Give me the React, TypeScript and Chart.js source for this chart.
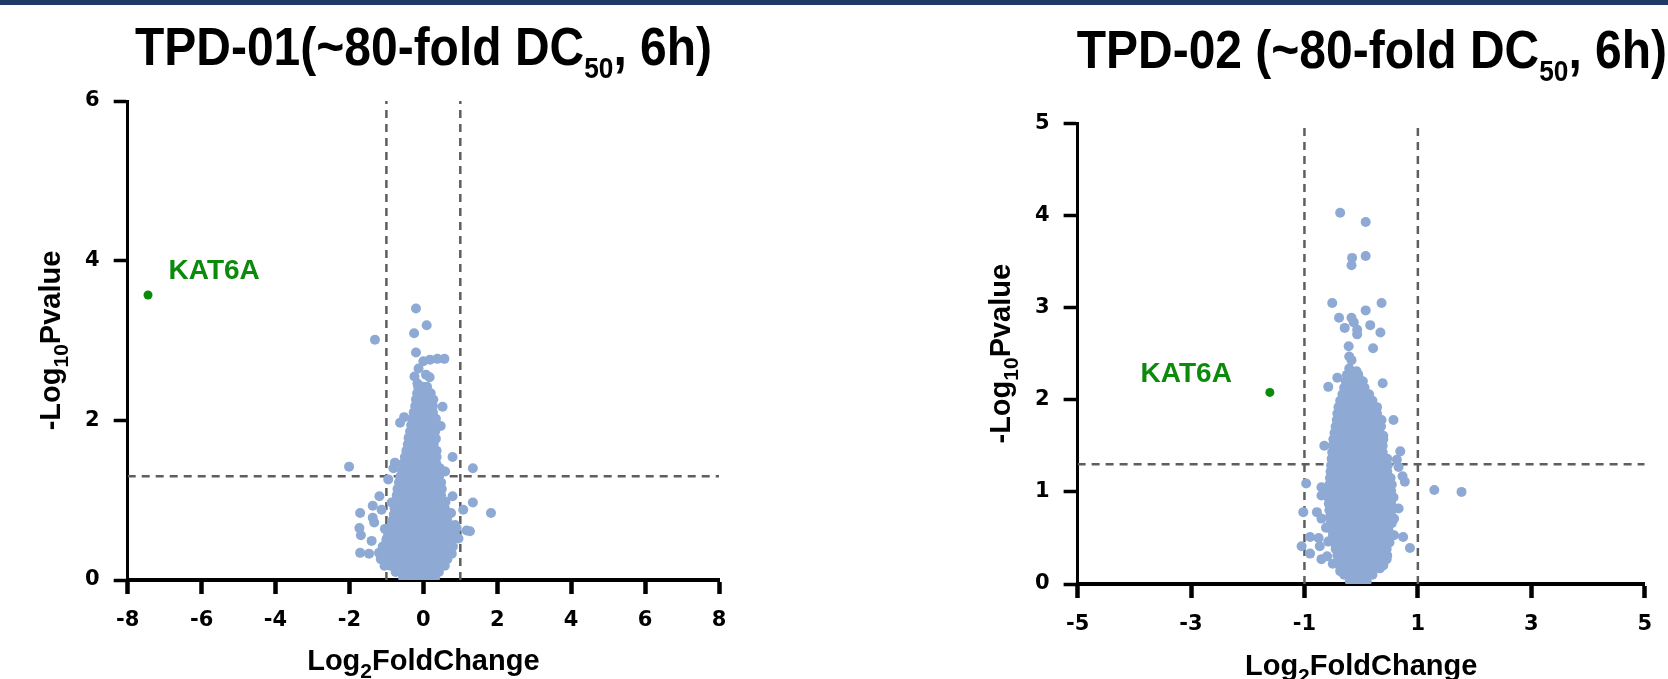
import React, { useEffect, useRef } from "react";
import { Chart, registerables } from "chart.js";

Chart.register(...registerables);

const FONT = "'Liberation Sans', Arial, Helvetica, sans-serif";
const TICK_FONT = "'DejaVu Sans', Verdana, sans-serif";
const BLUE = "#8EAAD4";
const GREEN = "#0B8A0B";
const DASH = "#5E5E5E";
const TICK_SIZE = 21;

Chart.defaults.font.family = TICK_FONT;
Chart.defaults.font.size = TICK_SIZE;
Chart.defaults.font.weight = "bold";
Chart.defaults.color = "#000";

// thresholds
const FC_CUT = 1;
const P_CUT = 1.3;

// ---------------- TPD-01 ----------------
const tpd01Title = ["TPD-01(~80-fold DC", "50", ", 6h)"];
const tpd01XRange = [-8, 8];
const tpd01YRange = [0, 6];
const tpd01XStep = 2;
const tpd01YStep = 2;
const tpd01Kat6a = [-7.45, 3.57];
// dense core: [y, x values]
const tpd01Core: [number, number[]][] = [
  [0.03, [-0.55, -0.4, -0.25, -0.1, 0.05, 0.2, 0.32]],
  [0.1, [-0.75, -0.6, -0.45, -0.3, -0.15, 0, 0.15, 0.3, 0.42]],
  [0.18, [-1.05, -0.9, -0.75, -0.6, -0.45, -0.3, -0.15, 0, 0.15, 0.3, 0.45, 0.58]],
  [0.26, [-1.15, -1.0, -0.85, -0.7, -0.55, -0.4, -0.25, -0.1, 0.05, 0.2, 0.35, 0.5, 0.65]],
  [0.34, [-1.2, -1.05, -0.9, -0.75, -0.6, -0.45, -0.3, -0.15, 0, 0.15, 0.3, 0.45, 0.6, 0.72]],
  [0.42, [-1.1, -0.95, -0.8, -0.65, -0.5, -0.35, -0.2, -0.05, 0.1, 0.25, 0.4, 0.55, 0.7, 0.8]],
  [0.5, [-1.0, -0.85, -0.7, -0.55, -0.4, -0.25, -0.1, 0.05, 0.2, 0.35, 0.5, 0.65, 0.78]],
  [0.58, [-0.95, -0.8, -0.65, -0.5, -0.35, -0.2, -0.05, 0.1, 0.25, 0.4, 0.55, 0.7, 0.85]],
  [0.66, [-0.9, -0.75, -0.6, -0.45, -0.3, -0.15, 0, 0.15, 0.3, 0.45, 0.6, 0.72]],
  [0.74, [-0.85, -0.7, -0.55, -0.4, -0.25, -0.1, 0.05, 0.2, 0.35, 0.5, 0.65]],
  [0.82, [-0.8, -0.65, -0.5, -0.35, -0.2, -0.05, 0.1, 0.25, 0.4, 0.55, 0.68]],
  [0.9, [-0.78, -0.62, -0.48, -0.33, -0.18, -0.03, 0.12, 0.27, 0.42, 0.58]],
  [0.98, [-0.75, -0.6, -0.45, -0.3, -0.15, 0, 0.15, 0.3, 0.45, 0.6]],
  [1.06, [-0.72, -0.57, -0.42, -0.27, -0.12, 0.03, 0.18, 0.33, 0.48]],
  [1.14, [-0.7, -0.55, -0.4, -0.25, -0.1, 0.05, 0.2, 0.35, 0.5]],
  [1.22, [-0.66, -0.52, -0.37, -0.22, -0.07, 0.08, 0.23, 0.38, 0.48]],
  [1.3, [-0.62, -0.48, -0.33, -0.18, -0.03, 0.12, 0.27, 0.42]],
  [1.38, [-0.58, -0.44, -0.3, -0.15, 0, 0.15, 0.3, 0.42]],
  [1.46, [-0.55, -0.4, -0.25, -0.1, 0.05, 0.2, 0.35]],
  [1.54, [-0.5, -0.36, -0.22, -0.07, 0.08, 0.22, 0.36]],
  [1.62, [-0.46, -0.32, -0.18, -0.04, 0.1, 0.24, 0.36]],
  [1.7, [-0.42, -0.28, -0.14, 0, 0.14, 0.28]],
  [1.78, [-0.4, -0.26, -0.12, 0.02, 0.16, 0.3]],
  [1.86, [-0.36, -0.22, -0.08, 0.06, 0.2, 0.32]],
  [1.94, [-0.33, -0.2, -0.06, 0.08, 0.22]],
  [2.02, [-0.3, -0.17, -0.04, 0.1, 0.22, 0.34]],
  [2.1, [-0.26, -0.13, 0, 0.13, 0.26]],
  [2.18, [-0.22, -0.1, 0.03, 0.16, 0.26]],
  [2.26, [-0.2, -0.07, 0.06, 0.18]],
  [2.34, [-0.17, -0.04, 0.08, 0.2]],
  [2.42, [-0.14, -0.02, 0.1]],
];
// scattered points: [x, y]
const tpd01Scatter: [number, number][] = [
  [-0.2, 3.4], [0.09, 3.19], [-1.31, 3.01], [-0.25, 3.09], [-0.2, 2.85], [0.0, 2.74],
  [0.18, 2.76], [0.38, 2.77], [0.57, 2.77], [-0.13, 2.65], [-0.24, 2.55], [0.07, 2.57],
  [0.17, 2.54], [-0.16, 2.46], [0.52, 2.17], [0.27, 2.26], [-0.52, 2.04], [-0.63, 1.97],
  [0.47, 1.93], [0.34, 1.77], [-0.36, 1.71], [-0.4, 1.67], [0.79, 1.54], [-2.01, 1.42],
  [1.34, 1.4], [-0.77, 1.47], [-0.81, 1.4], [-0.95, 1.26], [0.45, 1.4], [0.59, 1.36],
  [-1.19, 1.05], [0.79, 1.05], [1.34, 0.97], [1.08, 0.88], [1.83, 0.84], [-1.37, 0.93],
  [-1.13, 0.88], [-1.71, 0.84], [-1.37, 0.78], [-1.33, 0.72], [-1.73, 0.65], [-1.69, 0.56],
  [-1.4, 0.49], [-1.71, 0.34], [-1.47, 0.33], [0.86, 0.69], [0.95, 0.52], [1.17, 0.62],
  [1.26, 0.61], [0.77, 0.33], [0.55, 0.2], [-1.04, 0.64], [-0.99, 0.52], [-0.86, 0.97],
  [-0.63, 1.25], [0.75, 0.84], [0.9, 0.65],
];

// ---------------- TPD-02 ----------------
const tpd02Title = ["TPD-02 (~80-fold DC", "50", ", 6h)"];
const tpd02XRange = [-5, 5];
const tpd02YRange = [0, 5];
const tpd02XStep = 2;
const tpd02YStep = 1;
const tpd02Kat6a = [-1.61, 2.08];
const tpd02Core: [number, number[]][] = [
  [0.03, [-0.2, -0.1, 0, 0.1]],
  [0.1, [-0.3, -0.2, -0.1, 0, 0.1, 0.2]],
  [0.17, [-0.36, -0.26, -0.16, -0.06, 0.04, 0.14, 0.24, 0.33]],
  [0.24, [-0.4, -0.3, -0.2, -0.1, 0, 0.1, 0.2, 0.3, 0.4]],
  [0.31, [-0.42, -0.32, -0.22, -0.12, -0.02, 0.08, 0.18, 0.28, 0.38, 0.46]],
  [0.38, [-0.45, -0.35, -0.25, -0.15, -0.05, 0.05, 0.15, 0.25, 0.35, 0.45]],
  [0.45, [-0.48, -0.38, -0.28, -0.18, -0.08, 0.02, 0.12, 0.22, 0.32, 0.42, 0.5]],
  [0.52, [-0.5, -0.4, -0.3, -0.2, -0.1, 0, 0.1, 0.2, 0.3, 0.4, 0.5]],
  [0.59, [-0.52, -0.42, -0.32, -0.22, -0.12, -0.02, 0.08, 0.18, 0.28, 0.38, 0.48]],
  [0.66, [-0.54, -0.44, -0.34, -0.24, -0.14, -0.04, 0.06, 0.16, 0.26, 0.36, 0.46, 0.54]],
  [0.73, [-0.55, -0.45, -0.35, -0.25, -0.15, -0.05, 0.05, 0.15, 0.25, 0.35, 0.45, 0.53]],
  [0.8, [-0.56, -0.46, -0.36, -0.26, -0.16, -0.06, 0.04, 0.14, 0.24, 0.34, 0.44, 0.54]],
  [0.87, [-0.57, -0.47, -0.37, -0.27, -0.17, -0.07, 0.03, 0.13, 0.23, 0.33, 0.43, 0.53]],
  [0.94, [-0.58, -0.48, -0.38, -0.28, -0.18, -0.08, 0.02, 0.12, 0.22, 0.32, 0.42, 0.52, 0.57]],
  [1.01, [-0.57, -0.47, -0.37, -0.27, -0.17, -0.07, 0.03, 0.13, 0.23, 0.33, 0.43, 0.53]],
  [1.08, [-0.56, -0.46, -0.36, -0.26, -0.16, -0.06, 0.04, 0.14, 0.24, 0.34, 0.44, 0.54]],
  [1.15, [-0.55, -0.45, -0.35, -0.25, -0.15, -0.05, 0.05, 0.15, 0.25, 0.35, 0.45, 0.52]],
  [1.22, [-0.54, -0.44, -0.34, -0.24, -0.14, -0.04, 0.06, 0.16, 0.26, 0.36, 0.46]],
  [1.29, [-0.53, -0.43, -0.33, -0.23, -0.13, -0.03, 0.07, 0.17, 0.27, 0.37, 0.47]],
  [1.36, [-0.52, -0.42, -0.32, -0.22, -0.12, -0.02, 0.08, 0.18, 0.28, 0.38, 0.46]],
  [1.43, [-0.51, -0.41, -0.31, -0.21, -0.11, -0.01, 0.09, 0.19, 0.29, 0.38]],
  [1.5, [-0.5, -0.4, -0.3, -0.2, -0.1, 0, 0.1, 0.2, 0.3, 0.38]],
  [1.57, [-0.49, -0.39, -0.29, -0.19, -0.09, 0.01, 0.11, 0.21, 0.31, 0.39]],
  [1.64, [-0.47, -0.37, -0.27, -0.17, -0.07, 0.03, 0.13, 0.23, 0.33]],
  [1.71, [-0.45, -0.35, -0.25, -0.15, -0.05, 0.05, 0.15, 0.25, 0.35]],
  [1.78, [-0.43, -0.33, -0.23, -0.13, -0.03, 0.07, 0.17, 0.27, 0.36]],
  [1.85, [-0.42, -0.32, -0.22, -0.12, -0.02, 0.08, 0.18, 0.28]],
  [1.92, [-0.4, -0.3, -0.2, -0.1, 0, 0.1, 0.2, 0.28]],
  [1.99, [-0.37, -0.27, -0.17, -0.07, 0.03, 0.13, 0.2]],
  [2.06, [-0.33, -0.23, -0.13, -0.03, 0.07, 0.14]],
  [2.13, [-0.3, -0.2, -0.1, 0, 0.06]],
  [2.2, [-0.27, -0.17, -0.07, 0.03]],
  [2.27, [-0.25, -0.15, -0.05]],
];
const tpd02Scatter: [number, number][] = [
  [-0.37, 4.03], [0.08, 3.93], [-0.16, 3.54], [-0.17, 3.46], [0.08, 3.56], [-0.51, 3.05],
  [0.36, 3.05], [0.08, 2.97], [-0.39, 2.89], [-0.17, 2.89], [-0.13, 2.84], [-0.29, 2.78],
  [-0.07, 2.76], [-0.07, 2.71], [0.16, 2.81], [0.34, 2.73], [0.21, 2.56], [-0.22, 2.58],
  [-0.21, 2.47], [-0.17, 2.43], [-0.21, 2.34], [-0.08, 2.31], [-0.42, 2.24], [-0.58, 2.14],
  [0.38, 2.18], [0.57, 1.78], [-0.65, 1.5], [0.69, 1.44], [0.63, 1.35], [0.66, 1.27],
  [0.73, 1.17], [0.77, 1.11], [-0.97, 1.09], [1.29, 1.02], [1.77, 1.0], [-0.7, 1.05],
  [-0.7, 0.96], [-1.02, 0.78], [-0.78, 0.78], [-0.7, 0.71], [-0.62, 0.61], [-1.05, 0.41],
  [-0.9, 0.51], [-0.9, 0.33], [-0.75, 0.5], [-0.73, 0.41], [-0.58, 0.46], [-0.7, 0.27],
  [-0.6, 0.3], [-0.5, 0.22], [-0.37, 0.14], [0.86, 0.39], [0.74, 0.51], [0.58, 0.53],
  [0.66, 0.82], [0.58, 0.71], [0.45, 0.27], [0.39, 0.2], [0.39, 1.61],
];

// ---------------- helpers ----------------
type Seg = { t: string; sub?: boolean };

function buildPoints(core: [number, number[]][], scatter: [number, number][]) {
  const pts: { x: number; y: number }[] = [];
  core.forEach(([y, xs]) => xs.forEach((x) => pts.push({ x, y })));
  scatter.forEach(([x, y]) => pts.push({ x, y }));
  return pts;
}

function drawSegs(ctx: CanvasRenderingContext2D, segs: Seg[], size: number, subSize: number, subDrop: number, x: number, y: number) {
  let cx = x;
  for (const s of segs) {
    ctx.font = `bold ${s.sub ? subSize : size}px ${FONT}`;
    ctx.fillText(s.t, cx, s.sub ? y + subDrop : y);
    cx += ctx.measureText(s.t).width;
  }
  return cx - x;
}
function measureSegs(ctx: CanvasRenderingContext2D, segs: Seg[], size: number, subSize: number) {
  let w = 0;
  for (const s of segs) {
    ctx.font = `bold ${s.sub ? subSize : size}px ${FONT}`;
    w += ctx.measureText(s.t).width;
  }
  return w;
}

const TITLE_SIZE = 53;
const TITLE_SUB = 29;
const TITLE_TARGET_W = 577;
const AXIS_SIZE = 29;
const AXIS_SUB = 21;

type Spec = {
  left: number;
  title: string[];
  titleX: number;
  titleBase: number;
  xRange: number[];
  yRange: number[];
  xStep: number;
  yStep: number;
  kat: number[];
  katDx: number;
  katDy: number;
  katAlign: CanvasTextAlign;
  core: [number, number[]][];
  scatter: [number, number][];
  padTop: number;
  padRight: number;
  yAxisW: number;
  xAxisH: number;
  xTitleBase: number;
  yTitleOffset: number;
};

function textPlugin(spec: Spec) {
  return {
    id: "volcanoText",
    afterDraw(chart: any) {
      const ctx: CanvasRenderingContext2D = chart.ctx;
      const area = chart.chartArea;
      const xs = chart.scales.x;
      const ys = chart.scales.y;
      ctx.save();
      ctx.fillStyle = "#000";
      ctx.textBaseline = "alphabetic";
      ctx.textAlign = "left";
      // title (condensed to match width)
      const calib: Seg[] = [{ t: tpd01Title[0] }, { t: tpd01Title[1], sub: true }, { t: tpd01Title[2] }];
      const sx = TITLE_TARGET_W / measureSegs(ctx, calib, TITLE_SIZE, TITLE_SUB);
      const tsegs: Seg[] = [{ t: spec.title[0] }, { t: spec.title[1], sub: true }, { t: spec.title[2] }];
      ctx.save();
      ctx.translate(spec.titleX, spec.titleBase);
      ctx.scale(sx, 1);
      drawSegs(ctx, tsegs, TITLE_SIZE, TITLE_SUB, 13, 0, 0);
      ctx.restore();
      // x axis title
      const xsegs: Seg[] = [{ t: "Log" }, { t: "2", sub: true }, { t: "FoldChange" }];
      const xw = measureSegs(ctx, xsegs, AXIS_SIZE, AXIS_SUB);
      const xc = (area.left + area.right) / 2;
      drawSegs(ctx, xsegs, AXIS_SIZE, AXIS_SUB, 8, xc - xw / 2, spec.xTitleBase);
      // y axis title
      const ysegs: Seg[] = [{ t: "-Log" }, { t: "10", sub: true }, { t: "Pvalue" }];
      const yw = measureSegs(ctx, ysegs, AXIS_SIZE, AXIS_SUB);
      ctx.save();
      ctx.translate(area.left - spec.yTitleOffset, (area.top + area.bottom) / 2);
      ctx.rotate(-Math.PI / 2);
      drawSegs(ctx, ysegs, AXIS_SIZE, AXIS_SUB, 8, -yw / 2, 0);
      ctx.restore();
      // KAT6A label
      const px = xs.getPixelForValue(spec.kat[0]);
      const py = ys.getPixelForValue(spec.kat[1]);
      ctx.fillStyle = GREEN;
      ctx.font = `bold 28px ${FONT}`;
      ctx.textAlign = spec.katAlign;
      ctx.fillText("KAT6A", px + spec.katDx, py + spec.katDy);
      ctx.restore();
    },
  };
}

function dashSet(data: { x: number; y: number }[]) {
  return {
    data,
    showLine: true,
    pointRadius: 0,
    borderColor: DASH,
    borderWidth: 2.5,
    borderDash: [8, 6],
    fill: false,
    order: 3,
  };
}

function makeConfig(spec: Spec): any {
  const tickFont = { family: TICK_FONT, size: TICK_SIZE, weight: "bold", lineHeight: 1.2 };
  return {
    type: "scatter",
    data: {
      datasets: [
        {
          label: "KAT6A",
          data: [{ x: spec.kat[0], y: spec.kat[1] }],
          backgroundColor: GREEN,
          borderWidth: 0,
          pointRadius: 4.5,
          pointBorderWidth: 0,
          order: 0,
        },
        {
          label: "proteins",
          data: buildPoints(spec.core, spec.scatter),
          backgroundColor: BLUE,
          borderWidth: 0,
          pointRadius: 5,
          pointBorderWidth: 0,
          order: 1,
        },
        dashSet([{ x: -FC_CUT, y: spec.yRange[0] }, { x: -FC_CUT, y: spec.yRange[1] }]),
        dashSet([{ x: FC_CUT, y: spec.yRange[0] }, { x: FC_CUT, y: spec.yRange[1] }]),
        dashSet([{ x: spec.xRange[0], y: P_CUT }, { x: spec.xRange[1], y: P_CUT }]),
      ],
    },
    options: {
      responsive: false,
      maintainAspectRatio: false,
      animation: false,
      events: [],
      layout: { padding: { left: 0, top: spec.padTop, right: spec.padRight, bottom: 0 } },
      plugins: { legend: { display: false }, tooltip: { enabled: false }, title: { display: false } },
      scales: {
        x: {
          type: "linear",
          min: spec.xRange[0],
          max: spec.xRange[1],
          z: 1,
          afterFit: (s: any) => {
            s.height = spec.xAxisH;
          },
          ticks: { stepSize: spec.xStep, font: tickFont, color: "#000", padding: 14, maxRotation: 0, autoSkip: false },
          grid: { display: true, drawOnChartArea: false, drawTicks: true, tickLength: 14, tickWidth: 4.5, tickColor: "#000" },
          border: { display: true, color: "#000", width: 4 },
        },
        y: {
          type: "linear",
          min: spec.yRange[0],
          max: spec.yRange[1],
          z: 1,
          afterFit: (s: any) => {
            s.width = spec.yAxisW;
          },
          ticks: { stepSize: spec.yStep, font: tickFont, color: "#000", padding: 14, autoSkip: false },
          grid: { display: true, drawOnChartArea: false, drawTicks: true, tickLength: 14, tickWidth: 3.5, tickColor: "#000" },
          border: { display: true, color: "#000", width: 3 },
        },
      },
    },
    plugins: [textPlugin(spec)],
  };
}

const leftSpec: Spec = {
  left: 0,
  title: tpd01Title,
  titleX: 135,
  titleBase: 65,
  xRange: tpd01XRange,
  yRange: tpd01YRange,
  xStep: tpd01XStep,
  yStep: tpd01YStep,
  kat: tpd01Kat6a,
  katDx: 20.5,
  katDy: -15.5,
  katAlign: "left",
  core: tpd01Core,
  scatter: tpd01Scatter,
  padTop: 101,
  padRight: 115,
  yAxisW: 127.7,
  xAxisH: 99,
  xTitleBase: 670,
  yTitleOffset: 68,
};

const rightSpec: Spec = {
  left: 834,
  title: tpd02Title,
  titleX: 242.7,
  titleBase: 68,
  xRange: tpd02XRange,
  yRange: tpd02YRange,
  xStep: tpd02XStep,
  yStep: tpd02YStep,
  kat: tpd02Kat6a,
  katDx: -38,
  katDy: -10.5,
  katAlign: "right",
  core: tpd02Core,
  scatter: tpd02Scatter,
  padTop: 123.4,
  padRight: 23.3,
  yAxisW: 243.6,
  xAxisH: 95,
  xTitleBase: 675,
  yTitleOffset: 67.6,
};

function Volcano({ spec }: { spec: Spec }) {
  const ref = useRef<HTMLCanvasElement>(null);
  useEffect(() => {
    const chart = new Chart(ref.current as HTMLCanvasElement, makeConfig(spec));
    return () => chart.destroy();
  }, [spec]);
  return (
    <canvas
      ref={ref}
      width={834}
      height={679}
      style={{ position: "absolute", left: spec.left, top: 0, width: 834, height: 679, display: "block" }}
    />
  );
}

export default function App() {
  return (
    <div style={{ position: "fixed", left: 0, top: 0, width: 1668, height: 679, overflow: "hidden", background: "#fff" }}>
      <Volcano spec={leftSpec} />
      <Volcano spec={rightSpec} />
      <div style={{ position: "absolute", left: 0, top: 0, width: 1668, height: 5, background: "#203864" }} />
    </div>
  );
}
